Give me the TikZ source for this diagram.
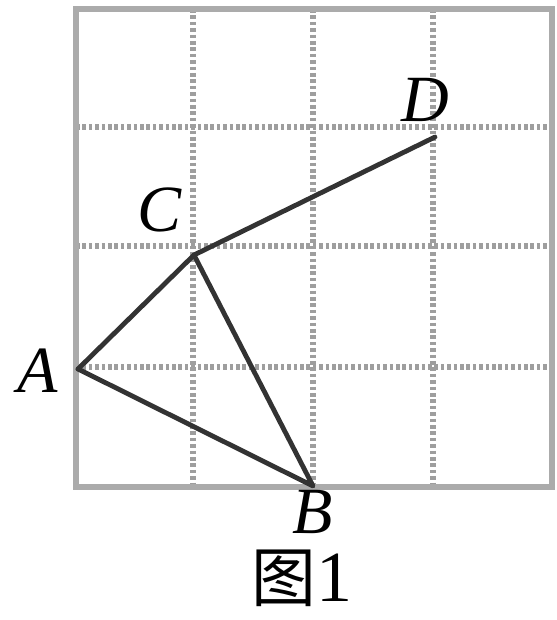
\documentclass[tikz,border=0pt]{standalone}
\usepackage{fontspec}
\setmainfont{Liberation Serif}
\newfontfamily\cjk[Scale=0.9]{Noto Sans CJK SC}
\begin{document}
\begin{tikzpicture}[x=0.25pt,y=-0.25pt,
  frame/.style={draw=black!33,line width=1.5pt},
  gridline/.style={draw=black!38,line width=1.6pt,dash pattern=on 0.9pt off 0.7pt},
  seg/.style={draw=black!80,line width=1.2pt,line cap=round,line join=round},
  lab/.style={inner sep=0pt,font=\fontsize{16.5}{18}\selectfont\itshape}]
\useasboundingbox (0,0) rectangle (556,620);
% grid
\foreach \x in {193,313,433} \draw[gridline] (\x,9) -- (\x,487);
\foreach \y in {127,246,367} \draw[gridline] (76,\y) -- (552,\y);
\draw[frame] (76,9) rectangle (552,487);
% points
\coordinate (A) at (78,369);
\coordinate (C) at (194,255);
\coordinate (D) at (435,137);
\coordinate (B) at (313,486);
\draw[seg] (A) -- (C) -- (D);
\draw[seg] (C) -- (B) -- (A);
% labels
\node[lab] (la) at (38,371) {A};
\node[lab] (lc) at (160,210) {C};
\node[lab] (ld) at (425,100) {D};
\node[lab] (lb) at (313,512) {B};
\node[inner sep=0pt,font=\fontsize{18}{20}\selectfont] (cap) at (302,578) {{\cjk 图}1};
\end{tikzpicture}
\end{document}
